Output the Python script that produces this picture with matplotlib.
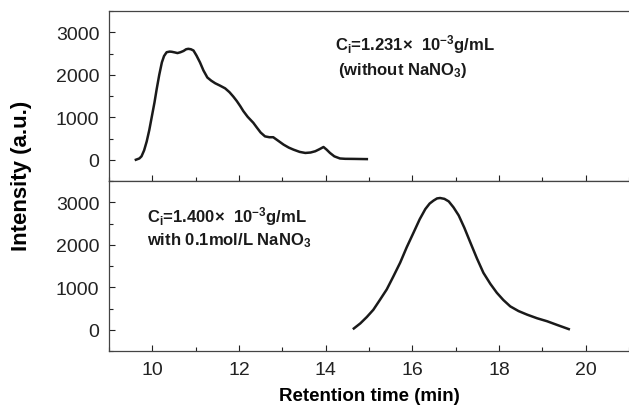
import matplotlib
matplotlib.use("Agg")
import matplotlib.pyplot as plt
from matplotlib.ticker import MultipleLocator

plt.rcParams["font.family"] = ["Liberation Sans", "DejaVu Sans"]
plt.rcParams["mathtext.fontset"] = "custom"
plt.rcParams["mathtext.rm"] = "Liberation Sans:bold"
plt.rcParams["mathtext.bf"] = "Liberation Sans:bold"
plt.rcParams["mathtext.default"] = "bf"

# top trace: without NaNO3
t_top = [9.62, 9.70, 9.75, 9.81, 9.87, 9.93, 9.99, 10.05, 10.10, 10.16, 10.22, 10.27,
         10.33, 10.40, 10.45, 10.52, 10.58, 10.65, 10.72, 10.78, 10.83, 10.89, 10.95,
         11.02, 11.10, 11.18, 11.27, 11.36, 11.45, 11.56, 11.68, 11.78, 11.87, 11.95,
         12.03, 12.10, 12.20, 12.33, 12.41, 12.50, 12.60, 12.70, 12.79, 12.90, 13.03,
         13.15, 13.26, 13.40, 13.53, 13.65, 13.76, 13.86, 13.95, 14.02, 14.10, 14.20,
         14.33, 14.45, 14.64, 14.95]
i_top = [0, 30, 80, 220, 430, 700, 1025, 1350, 1660, 2000, 2290, 2440,
         2530, 2545, 2540, 2525, 2510, 2530, 2560, 2600, 2610, 2600, 2570,
         2450, 2290, 2100, 1935, 1860, 1800, 1745, 1680, 1590, 1485, 1380,
         1260, 1145, 1010, 870, 760, 640, 550, 530, 530, 450, 355,
         285, 237, 185, 160, 170, 200, 250, 300, 240, 160, 80,
         30, 22, 20, 15]

# bottom trace: with 0.1 mol/L NaNO3
t_bot = [14.65, 14.80, 14.95, 15.10, 15.25, 15.41, 15.56, 15.72, 15.87, 16.03, 16.17,
         16.30, 16.40, 16.49, 16.57, 16.64, 16.74, 16.84, 16.95, 17.07, 17.20, 17.34,
         17.49, 17.64, 17.80, 17.95, 18.10, 18.26, 18.45, 18.65, 18.88, 19.11, 19.35,
         19.61]
i_bot = [30, 150, 300, 470, 700, 950, 1250, 1580, 1940, 2290, 2600,
         2840, 2970, 3040, 3090, 3100, 3080, 3020, 2880, 2690, 2400, 2050,
         1680, 1340, 1080, 870, 700, 550, 440, 355, 270, 200, 110,
         15]

W, H = 629, 410
fig = plt.figure(figsize=(W / 100, H / 100), dpi=100)
left = 109 / W
width = 1 - left
ax1 = fig.add_axes([left, 1 - 182 / H, width, 170 / H])
ax2 = fig.add_axes([left, 1 - 352 / H, width, 170 / H])

for ax in (ax1, ax2):
    ax.set_xlim(9, 21)
    ax.set_ylim(-500, 3500)
    ax.xaxis.set_major_locator(MultipleLocator(2))
    ax.xaxis.set_minor_locator(MultipleLocator(1))
    ax.yaxis.set_major_locator(MultipleLocator(1000))
    ax.yaxis.set_minor_locator(MultipleLocator(500))
    ax.tick_params(which="both", direction="in", top=False, right=False,
                   labelsize=14, width=0.8, colors="#222222")
    ax.tick_params(which="major", length=4, pad=7)
    ax.tick_params(which="minor", length=3)
    ax.spines["right"].set_visible(False)
    for s in ax.spines.values():
        s.set_color("#444444")
        s.set_linewidth(0.9)

ax1.tick_params(axis="x", labelbottom=False)
ax1.set_yticks([0, 1000, 2000, 3000])
ax2.set_yticks([0, 1000, 2000, 3000])

ax1.plot(t_top, i_top, color="#1a1a1a", lw=1.8, solid_joinstyle="round")
ax2.plot(t_bot, i_bot, color="#1a1a1a", lw=1.8, solid_joinstyle="round")


def label(px, py, s):
    # position given in pixels from the top-left corner
    fig.text(px / W, 1 - py / H, s, fontsize=12, fontweight="bold",
             va="center", ha="left", color="#1a1a1a")


label(335, 45, r"C$_i$=1.231×  10$^{-3}$g/mL")
label(338, 70, r"(without NaNO$_3$)")
label(147, 217, r"C$_i$=1.400×  10$^{-3}$g/mL")
label(147, 241, r"with 0.1mol/L NaNO$_3$")

ax2.set_xlabel("Retention time (min)", fontsize=13.5, fontweight="bold", labelpad=7)
fig.text(22 / W, 1 - 176 / H, "Intensity (a.u.)", rotation=90, fontsize=16,
         fontweight="bold", ha="center", va="center")

fig.savefig("out.png", dpi=100)
